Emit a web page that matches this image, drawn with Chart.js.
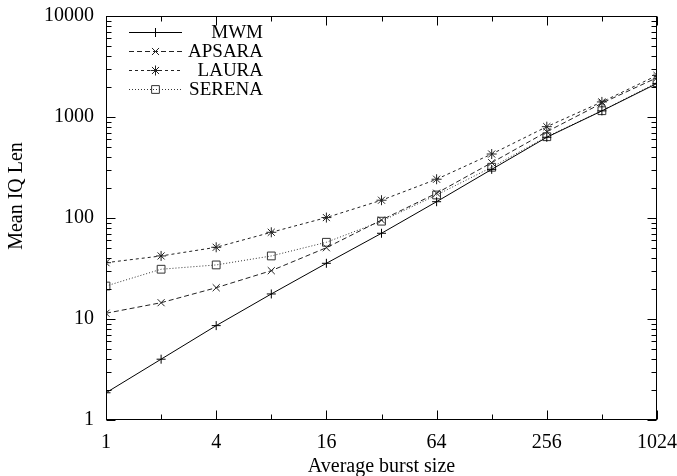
<!DOCTYPE html>
<html>
<head>
<meta charset="utf-8">
<script src="https://cdn.jsdelivr.net/npm/chart.js@4"></script>
<style>
  html, body { margin: 0; padding: 0; background: #fff; }
  #wrap { width: 677px; height: 476px; }
</style>
</head>
<body>
<div id="wrap"><canvas id="chart"></canvas></div>
<script>
// burst sizes and mean IQ length per scheduler
const sizes = [1, 2, 4, 8, 16, 32, 64, 128, 256, 512, 1024];
const mwm = [1.86, 4.0, 8.6, 17.7, 35.6, 70.6, 145, 303, 630, 1150, 2150];
const apsara = [11.4, 14.5, 20.4, 30.1, 50.8, 95.5, 176, 353, 715, 1370, 2450];
const laura = [36.1, 42.1, 51.3, 72.2, 101, 150, 242, 430, 802, 1410, 2580];
const serena = [21.2, 31.1, 34.3, 42.1, 57.5, 93, 169, 318, 638, 1154, 2190];

const xLabels = [1, 4, 16, 64, 256, 1024];
const yLabels = [1, 10, 100, 1000, 10000];

const FONT = '"Liberation Serif", "Times New Roman", serif';
Chart.defaults.font.family = FONT;
Chart.defaults.font.size = 20;
Chart.defaults.color = "#000";

function series(label, values, color, dash, style, radius) {
  return {
    label: label,
    data: sizes.map((s, i) => ({ x: s, y: values[i] })),
    borderColor: color,
    borderWidth: 1,
    borderDash: dash,
    pointStyle: style,
    pointRadius: radius,
    pointBorderColor: color,
    pointBackgroundColor: "rgba(0,0,0,0)",
    pointBorderWidth: 1,
    fill: false,
    tension: 0
  };
}

// 1..9 in every decade, used for tick marks on the frame
function yTickValues() {
  const out = [];
  for (let d = 1; d < 10000; d *= 10) {
    for (let k = 1; k < 10; k++) out.push(d * k);
  }
  out.push(10000);
  return out;
}

// gnuplot style box with inward ticks on all four sides, legend and titles
const framePlugin = {
  id: "frame",
  afterDraw(chart) {
    const ctx = chart.ctx;
    const a = chart.chartArea;
    const xs = chart.scales.x, ys = chart.scales.y;
    const L = Math.round(a.left) + 0.5, R = Math.round(a.right) - 0.5;
    const T = Math.round(a.top) + 0.5, B = Math.round(a.bottom) - 0.5;

    ctx.save();
    ctx.strokeStyle = "#000";
    ctx.lineWidth = 1;
    ctx.setLineDash([]);
    ctx.strokeRect(L, T, R - L, B - T);

    ctx.beginPath();
    sizes.forEach(v => {
      const px = Math.round(xs.getPixelForValue(v)) + 0.5;
      const len = xLabels.includes(v) ? 9 : 5;
      ctx.moveTo(px, B); ctx.lineTo(px, B - len);
      ctx.moveTo(px, T); ctx.lineTo(px, T + len);
    });
    yTickValues().forEach(v => {
      const py = Math.round(ys.getPixelForValue(v)) + 0.5;
      const len = yLabels.includes(v) ? 9 : 5;
      ctx.moveTo(L, py); ctx.lineTo(L + len, py);
      ctx.moveTo(R, py); ctx.lineTo(R - len, py);
    });
    ctx.stroke();

    // legend: sample line with marker, label right-aligned
    ctx.font = "19px " + FONT;
    ctx.textAlign = "right";
    ctx.textBaseline = "middle";
    chart.data.datasets.forEach((ds, i) => {
      const y = 32.5 + i * 19;
      ctx.strokeStyle = ds.borderColor;
      ctx.setLineDash(ds.borderDash || []);
      ctx.beginPath();
      ctx.moveTo(129, y); ctx.lineTo(182, y);
      ctx.stroke();
      ctx.setLineDash([]);
      ctx.fillStyle = "rgba(0,0,0,0)";
      Chart.helpers.drawPoint(ctx, {
        pointStyle: ds.pointStyle,
        radius: ds.pointRadius,
        rotation: 0,
        borderWidth: 1
      }, 155.5, y);
      ctx.fillStyle = "#000";
      ctx.fillText(ds.label, 263, y + 1);
    });

    // axis titles
    ctx.font = "20px " + FONT;
    ctx.fillStyle = "#000";
    ctx.textAlign = "center";
    ctx.textBaseline = "middle";
    ctx.fillText("Average burst size", (a.left + a.right) / 2, 467);
    ctx.translate(17, 196);
    ctx.rotate(-Math.PI / 2);
    ctx.fillText("Mean IQ Len", 0, 0);
    ctx.restore();
  }
};

new Chart(document.getElementById("chart"), {
  type: "line",
  data: {
    datasets: [
      series("MWM", mwm, "#000", [], "cross", 4.5),
      series("APSARA", apsara, "#222", [5, 3], "crossRot", 5),
      series("LAURA", laura, "#222", [3, 3], "star", 5),
      series("SERENA", serena, "#333", [1, 2], "rect", 5.5)
    ]
  },
  options: {
    responsive: true,
    maintainAspectRatio: false,
    animation: false,
    layout: { padding: { top: 16, right: 20, left: 0, bottom: 0 } },
    plugins: {
      legend: { display: false },
      tooltip: { enabled: false }
    },
    scales: {
      x: {
        type: "logarithmic",
        min: 1,
        max: 1024,
        grid: { display: false },
        border: { display: false },
        afterBuildTicks: scale => { scale.ticks = sizes.map(v => ({ value: v })); },
        afterFit: scale => {
          scale.height = 56;
          scale.paddingLeft = 0;
          scale.paddingRight = 0;
        },
        ticks: {
          autoSkip: false,
          maxRotation: 0,
          minRotation: 0,
          padding: 3,
          callback: v => xLabels.includes(v) ? String(v) : ""
        }
      },
      y: {
        type: "logarithmic",
        min: 1,
        max: 10000,
        grid: { display: false },
        border: { display: false },
        afterBuildTicks: scale => { scale.ticks = yLabels.map(v => ({ value: v })); },
        afterFit: scale => {
          scale.width = 106;
          scale.paddingTop = 0;
          scale.paddingBottom = 0;
        },
        ticks: {
          autoSkip: false,
          padding: 4,
          callback: v => String(v)
        }
      }
    }
  },
  plugins: [framePlugin]
});
</script>
</body>
</html>
